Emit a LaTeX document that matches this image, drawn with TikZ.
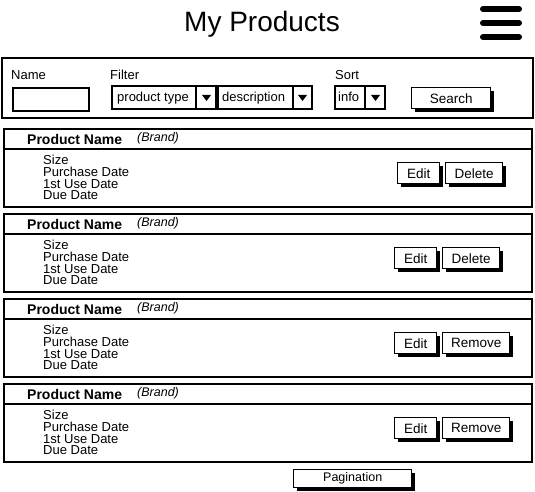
\documentclass[tikz,border=0pt]{standalone}
\usepackage{fontspec}
\setmainfont{Liberation Sans}
\usetikzlibrary{shadows}
\begin{document}
\begin{tikzpicture}[x=1pt,y=-1pt,
  box/.style={draw, line width=1.5pt},
  lbl/.style={inner sep=0pt, font=\fontsize{13}{14}\selectfont},
  ddtxt/.style={inner sep=0pt, font=\fontsize{13}{14}\selectfont, anchor=base west},
  pname/.style={inner sep=0pt, font=\bfseries\fontsize{14}{15}\selectfont},
  brand/.style={inner sep=0pt, font=\itshape\fontsize{12.5}{14}\selectfont},
  det/.style={inner sep=0pt, font=\fontsize{13}{14}\selectfont},
  btn/.style={draw, fill=white, line width=1.4pt, inner sep=0pt, anchor=north west,
    font=\fontsize{13.5}{14}\selectfont,
    drop shadow={shadow xshift=3pt, shadow yshift=-3pt, fill=black, opacity=1}},
  arr/.style={fill=black}
]
\useasboundingbox (0,0) rectangle (535,492);
% title
\node[font=\fontsize{28}{30}\selectfont, inner sep=0pt] (title) at (262,24) {My Products};
% hamburger
\foreach \yy in {9,23,37} \draw[line width=6pt, line cap=round] (483,\yy) -- (519,\yy);
% search panel
\draw[box] (2,58) rectangle (533,118);
\node[lbl, anchor=base west] (lname) at (11,80) {Name};
\node[lbl, anchor=base west] (lfilter) at (110,80) {Filter};
\node[lbl, anchor=base west] (lsort) at (335,80) {Sort};
\node[draw, line width=1.7pt, minimum width=76pt, minimum height=23pt, anchor=north west, inner sep=0pt] (namebox) at (12,87) {};
% dropdown product type
\draw[box, line width=1.3pt] (112,86) rectangle (216,109);
\draw[line width=1.3pt] (196,86) -- (196,109);
\node[ddtxt] (dpt) at (117,102) {product type};
\fill[arr] (202,95) -- (211,95) -- (206.5,101) -- cycle;
% dropdown description
\draw[box, line width=1.3pt] (218,86) rectangle (312,109);
\draw[line width=1.3pt] (293,86) -- (293,109);
\node[ddtxt] (ddesc) at (222,102) {description};
\fill[arr] (298,95) -- (307,95) -- (302.5,101) -- cycle;
% dropdown info
\draw[box, line width=1.3pt] (335,86) rectangle (385,109);
\draw[line width=1.3pt] (365,86) -- (365,109);
\node[ddtxt] (dinfo) at (338,102) {info};
\fill[arr] (371,95) -- (380,95) -- (375.5,101) -- cycle;
% search button
\node[btn, minimum width=79pt, minimum height=21pt] (search) at (411,87) {Search};
% cards
\foreach \k/\ex/\dx/\dw/\btxt in {0/397/445/57/Delete, 1/394/442/57/Delete, 2/394/442/67/Remove, 3/394/442/67/Remove} {
  \pgfmathsetmacro\tt{129+85*\k}
  \draw[box] (4,\tt) rectangle (532,\tt+78);
  \draw[box] (4,\tt+20) -- (532,\tt+20);
  \node[pname, anchor=base west] (pn\k) at (27,\tt+15) {Product Name};
  \node[brand, anchor=base west] (br\k) at (137,\tt+12.5) {(Brand)};
  \foreach \ln [count=\i from 0] in {Size, Purchase Date, 1st Use Date, Due Date}
    \node[det, anchor=base west] (det\k-\i) at (43,\tt+35.7+11.7*\i) {\ln};
  \node[btn, minimum width=42pt, minimum height=21pt] (ed\k) at (\ex,\tt+33) {Edit};
  \node[btn, minimum width=\dw pt, minimum height=21pt] (dl\k) at (\dx,\tt+33) {\btxt};
}
% pagination
\node[btn, minimum width=118pt, minimum height=18pt, font=\fontsize{12.5}{13}\selectfont] (pag) at (293,469) {Pagination};
\end{tikzpicture}
\end{document}
